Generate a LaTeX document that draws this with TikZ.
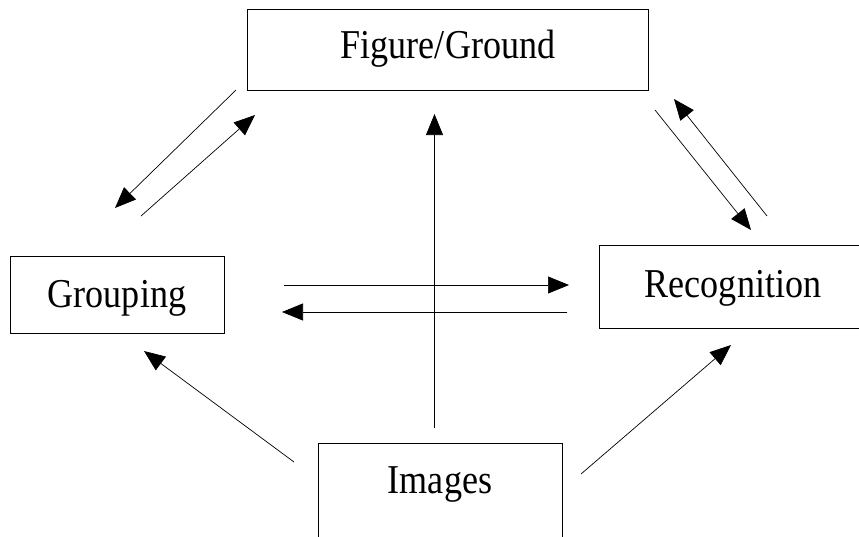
\documentclass[tikz,border=0pt]{standalone}
\usepackage{fontspec}
\setmainfont{Liberation Serif}[FakeStretch=0.88]
\usetikzlibrary{arrows.meta}

\tikzset{
    box/.style={draw, line width=0.8pt, inner sep=0pt, anchor=base,
        font=\fontsize{41}{43}\selectfont},
    flow/.style={line width=0.7pt, -{Triangle[length=21pt, width=17pt]}}
}

\begin{document}
\begin{tikzpicture}[x=1pt, y=-1pt]
    \useasboundingbox (0,0) rectangle (859,536);
    % Boxes
    \node[box, minimum width=401pt, text height=49pt, text depth=32pt] (figure) at (448,58) {Figure/Ground};
    \node[box, minimum width=214pt, text height=51pt, text depth=26pt] (grouping) at (117,307) {Grouping};
    \node[box, minimum width=268pt, text height=52pt, text depth=31pt] (recog) at (733,297) {Recognition};
    \node[box, minimum width=244pt, text height=50pt, text depth=60pt] (images) at (440,493) {Images};
    % Arrow ends
    \coordinate (gf1) at (236,90);   \coordinate (gf2) at (115,208);
    \coordinate (fg1) at (141,216);  \coordinate (fg2) at (255,115);
    \coordinate (fr1) at (655,110);  \coordinate (fr2) at (751,230);
    \coordinate (rf1) at (767,216);  \coordinate (rf2) at (674,99);
    \coordinate (gr1) at (284,285);  \coordinate (gr2) at (569,285);
    \coordinate (rg1) at (567,312);  \coordinate (rg2) at (282,312);
    \coordinate (if1) at (434.5,428); \coordinate (if2) at (434.5,114);
    \coordinate (ig1) at (294,462);  \coordinate (ig2) at (144,351);
    \coordinate (ir1) at (581,474);  \coordinate (ir2) at (731,345);
    % Figure/Ground <-> Grouping
    \draw[flow] (gf1) -- (gf2);
    \draw[flow] (fg1) -- (fg2);
    % Figure/Ground <-> Recognition
    \draw[flow] (fr1) -- (fr2);
    \draw[flow] (rf1) -- (rf2);
    % Grouping <-> Recognition
    \draw[flow] (gr1) -- (gr2);
    \draw[flow] (rg1) -- (rg2);
    % From the images
    \draw[flow] (if1) -- (if2);
    \draw[flow] (ig1) -- (ig2);
    \draw[flow] (ir1) -- (ir2);
\end{tikzpicture}
\end{document}
